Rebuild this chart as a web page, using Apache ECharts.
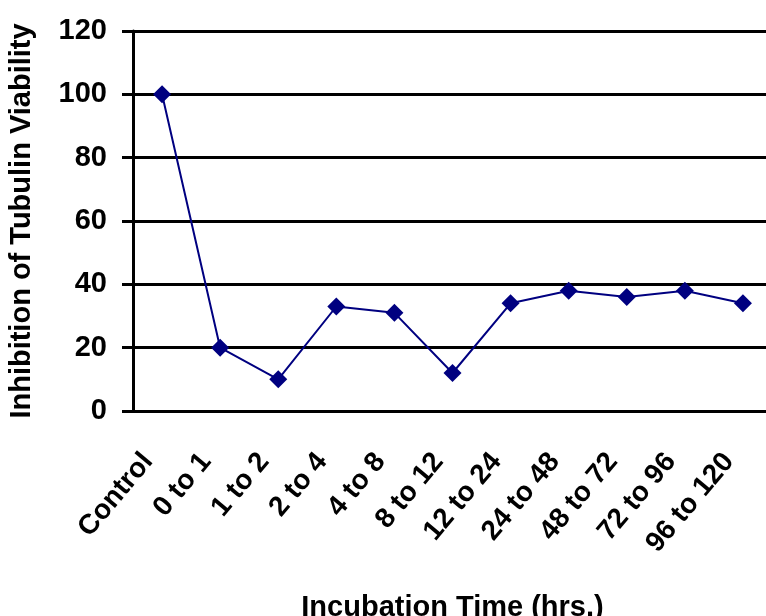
<!DOCTYPE html>
<html>
<head>
<meta charset="utf-8">
<script src="https://cdn.jsdelivr.net/npm/echarts@6/dist/echarts.min.js"></script>
<style>
html,body{margin:0;padding:0;background:#fff;}
#chart{width:766px;height:616px;}
</style>
</head>
<body>
<div id="chart"></div>
<script>
var categories = ['Control','0 to 1','1 to 2','2 to 4','4 to 8','8 to 12','12 to 24','24 to 48','48 to 72','72 to 96','96 to 120'];
var inhibition = [100, 20, 10, 33, 31, 12, 34, 38, 36, 38, 34];
var yTicks = [0, 20, 40, 60, 80, 100, 120];

var FONT = "'Liberation Sans', Arial, sans-serif";
var chart = echarts.init(document.getElementById('chart'), null, {renderer:'canvas'});
chart.setOption({
  animation: false,
  backgroundColor: '#ffffff',
  grid: {left: 133, top: 31, width: 639, height: 380, containLabel: false, outerBoundsMode: 'none'},
  xAxis: {
    type: 'category',
    data: categories,
    boundaryGap: true,
    name: 'Incubation Time (hrs.)',
    nameLocation: 'middle',
    nameGap: 182,
    nameTextStyle: {fontFamily: FONT, fontWeight: 'bold', fontSize: 29, color: '#000'},
    axisLine: {show: true, lineStyle: {color: '#000', width: 3}},
    axisTick: {show: false},
    axisLabel: {rotate: 50, margin: 29, padding: [0, 22, 0, 0], interval: 0, fontFamily: FONT, fontWeight: 'bold', fontSize: 28, color: '#000'},
    splitLine: {show: false}
  },
  yAxis: {
    type: 'value',
    min: yTicks[0],
    max: yTicks[yTicks.length - 1],
    interval: 20,
    name: 'Inhibition of Tubulin Viability',
    nameLocation: 'middle',
    nameRotate: 90,
    nameGap: 97,
    nameTextStyle: {fontFamily: FONT, fontWeight: 'bold', fontSize: 29, color: '#000'},
    axisLine: {show: true, lineStyle: {color: '#000', width: 3}},
    axisTick: {show: true, length: 11, lineStyle: {color: '#000', width: 3}},
    axisLabel: {margin: 26, fontFamily: FONT, fontWeight: 'bold', fontSize: 29, color: '#000'},
    splitLine: {show: true, lineStyle: {color: '#000', width: 3}}
  },
  series: [{
    type: 'line',
    data: inhibition,
    symbol: 'diamond',
    symbolSize: 18,
    lineStyle: {color: '#000080', width: 2},
    itemStyle: {color: '#000080'}
  }]
});
</script>
</body>
</html>
